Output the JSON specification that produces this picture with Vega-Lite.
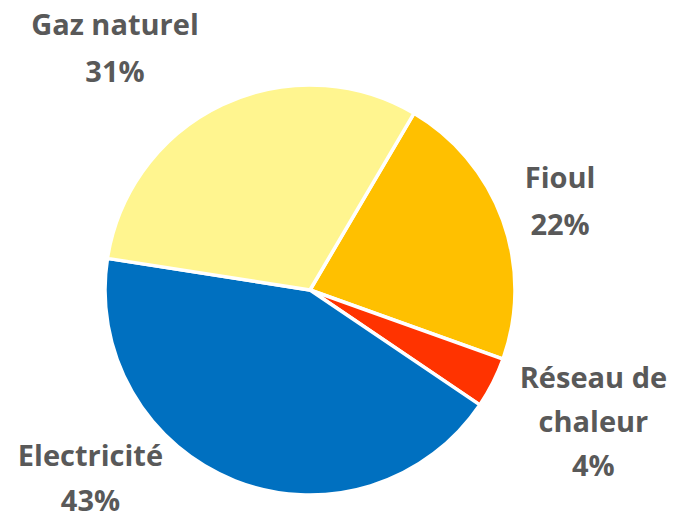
{
  "$schema": "https://vega.github.io/schema/vega-lite/v6.json",
  "autosize": "none",
  "width": 620,
  "height": 454,
  "padding": {"left": 0, "top": 63, "right": 57, "bottom": 0},
  "background": "white",
  "config": {"view": {"stroke": null}},
  "data": {
    "values": [
      {"category": "Fioul", "value": 22, "order": 1, "label": "Fioul\n22%"},
      {"category": "Réseau de chaleur", "value": 4, "order": 2, "label": "Réseau de\nchaleur\n4%"},
      {"category": "Electricité", "value": 43, "order": 3, "label": "Electricité\n43%"},
      {"category": "Gaz naturel", "value": 31, "order": 4, "label": "Gaz naturel\n31%"}
    ]
  },
  "encoding": {
    "theta": {"field": "value", "type": "quantitative", "stack": true, "scale": {"range": [0.532, 6.815]}},
    "order": {"field": "order", "type": "quantitative"}
  },
  "layer": [
    {
      "mark": {"type": "arc", "outerRadius": 205, "stroke": "white", "strokeWidth": 3.5},
      "encoding": {
        "color": {"field": "category", "type": "nominal", "legend": null,
          "scale": {"domain": ["Fioul", "Réseau de chaleur", "Electricité", "Gaz naturel"],
                    "range": ["#FFC000", "#FF3300", "#0070C0", "#FFF58F"]}}
      }
    },
    {
      "mark": {"type": "text", "radius": 266, "dx": 0, "dy": -20, "font": "Open Sans", "fontWeight": "bold", "fontSize": 29, "color": "#595959", "lineBreak": "\n", "lineHeight": 47, "align": "center", "baseline": "middle"},
      "encoding": {"text": {"condition": {"test": "datum.category === 'Fioul'", "field": "label"}, "value": ""}}
    },
    {
      "mark": {"type": "text", "radius": 311, "dx": 6, "dy": -52, "font": "Open Sans", "fontWeight": "bold", "fontSize": 29, "color": "#595959", "lineBreak": "\n", "lineHeight": 44, "align": "center", "baseline": "middle"},
      "encoding": {"text": {"condition": {"test": "datum.category === 'Réseau de chaleur'", "field": "label"}, "value": ""}}
    },
    {
      "mark": {"type": "text", "radius": 291, "dx": -113, "dy": -104, "font": "Open Sans", "fontWeight": "bold", "fontSize": 29, "color": "#595959", "lineBreak": "\n", "lineHeight": 45, "align": "center", "baseline": "middle"},
      "encoding": {"text": {"condition": {"test": "datum.category === 'Electricité'", "field": "label"}, "value": ""}}
    },
    {
      "mark": {"type": "text", "radius": 311, "dx": -62, "dy": 17, "font": "Open Sans", "fontWeight": "bold", "fontSize": 29, "color": "#595959", "lineBreak": "\n", "lineHeight": 47, "align": "center", "baseline": "middle"},
      "encoding": {"text": {"condition": {"test": "datum.category === 'Gaz naturel'", "field": "label"}, "value": ""}}
    }
  ]
}
